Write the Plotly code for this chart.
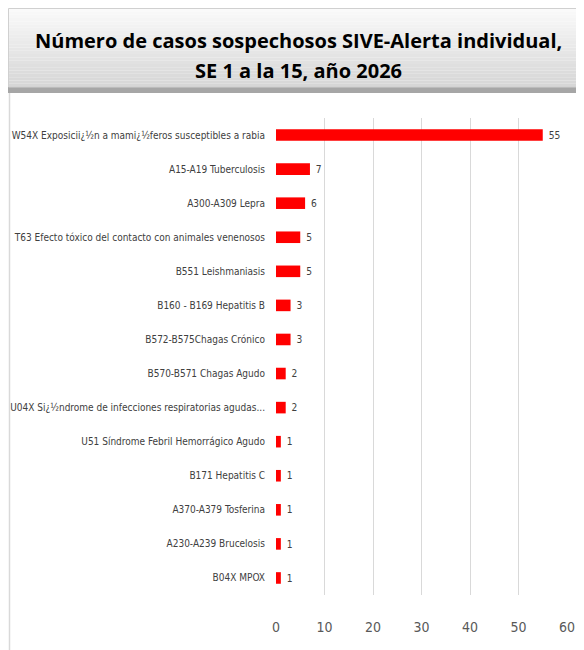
import plotly.graph_objects as go

categories = [
    "W54X Exposicii¿½n a mami¿½feros susceptibles a rabia",
    "A15-A19 Tuberculosis",
    "A300-A309 Lepra",
    "T63 Efecto tóxico del contacto con animales venenosos",
    "B551 Leishmaniasis",
    "B160 - B169 Hepatitis B",
    "B572-B575Chagas Crónico",
    "B570-B571 Chagas Agudo",
    "U04X Si¿½ndrome de infecciones respiratorias agudas...",
    "U51 Síndrome Febril Hemorrágico Agudo",
    "B171 Hepatitis C",
    "A370-A379 Tosferina",
    "A230-A239 Brucelosis",
    "B04X MPOX",
]
values = [55, 7, 6, 5, 5, 3, 3, 2, 2, 1, 1, 1, 1, 1]
x_ticks = [0, 10, 20, 30, 40, 50, 60]

# page has an 8px body margin; work in figure coordinates
W, H = 576, 642
L, R, T, B = 268, 17, 110, 55
PW = W - L - R
PH = H - T - B

def px(x):
    return (x - L) / PW

def py(y):
    return (H - B - y) / PH

NARROW = "DejaVu Sans Condensed, Liberation Sans Narrow, sans-serif"

fig = go.Figure(go.Bar(
    x=values, y=categories, orientation="h",
    marker=dict(color="#ff0000", line=dict(width=0)),
    text=[" " + str(v) for v in values], textposition="outside",
    textfont=dict(family=NARROW, size=14, color="#404040"),
    cliponaxis=False, width=0.34,
))

shapes = []
shapes.append(dict(type="line", xref="paper", yref="paper",
                   x0=px(1.5), x1=px(1.5), y0=py(84), y1=py(H),
                   line=dict(color="#d9d9d9", width=1.5)))
shapes.append(dict(type="rect", xref="paper", yref="paper",
                   x0=px(0), x1=px(W), y0=py(85), y1=py(78),
                   fillcolor="#a6a6a6", line=dict(width=0)))
top, bot = 0, 79
n = 24
c0, c1 = 250, 214
for i in range(n):
    y0 = top + (bot - top) * i / n
    y1 = top + (bot - top) * (i + 1) / n
    c = int(round(c0 + (c1 - c0) * i / (n - 1)))
    shapes.append(dict(type="rect", xref="paper", yref="paper",
                       x0=px(0), x1=px(W), y0=py(y1), y1=py(y0),
                       fillcolor=f"rgb({c},{c},{c})", line=dict(width=0)))
shapes.append(dict(type="rect", xref="paper", yref="paper",
                   x0=px(0.5), x1=px(W), y0=py(bot), y1=py(0.5),
                   fillcolor="rgba(0,0,0,0)", line=dict(color="#d0d0d0", width=1)))

annotations = [
    dict(xref="paper", yref="paper", x=px(290), y=py(32),
         text="<b>Número de casos sospechosos SIVE-Alerta individual,</b>",
         showarrow=False, xanchor="center", yanchor="middle",
         font=dict(family="Open Sans, sans-serif", size=20, color="#000000")),
    dict(xref="paper", yref="paper", x=px(290), y=py(62),
         text="<b>SE 1 a la 15, año 2026</b>",
         showarrow=False, xanchor="center", yanchor="middle",
         font=dict(family="Open Sans, sans-serif", size=20, color="#000000")),
]

fig.update_layout(
    width=W, height=H,
    margin=dict(l=L, r=R, t=T, b=B, autoexpand=False),
    paper_bgcolor="white", plot_bgcolor="white",
    showlegend=False,
    shapes=shapes, annotations=annotations,
    xaxis=dict(range=[0, 60], tickvals=x_ticks, ticktext=[str(t) for t in x_ticks],
               showgrid=True, gridcolor="#d9d9d9", gridwidth=1,
               zeroline=False, showline=False, ticks="", automargin=False,
               ticklabelstandoff=22,
               tickfont=dict(family=NARROW, size=14, color="#595959")),
    yaxis=dict(autorange="reversed", showgrid=False, showline=False, ticks="",
               automargin=False, ticklabelstandoff=10,
               tickfont=dict(family=NARROW, size=10, color="#404040")),
)

fig.write_html("out.html")
